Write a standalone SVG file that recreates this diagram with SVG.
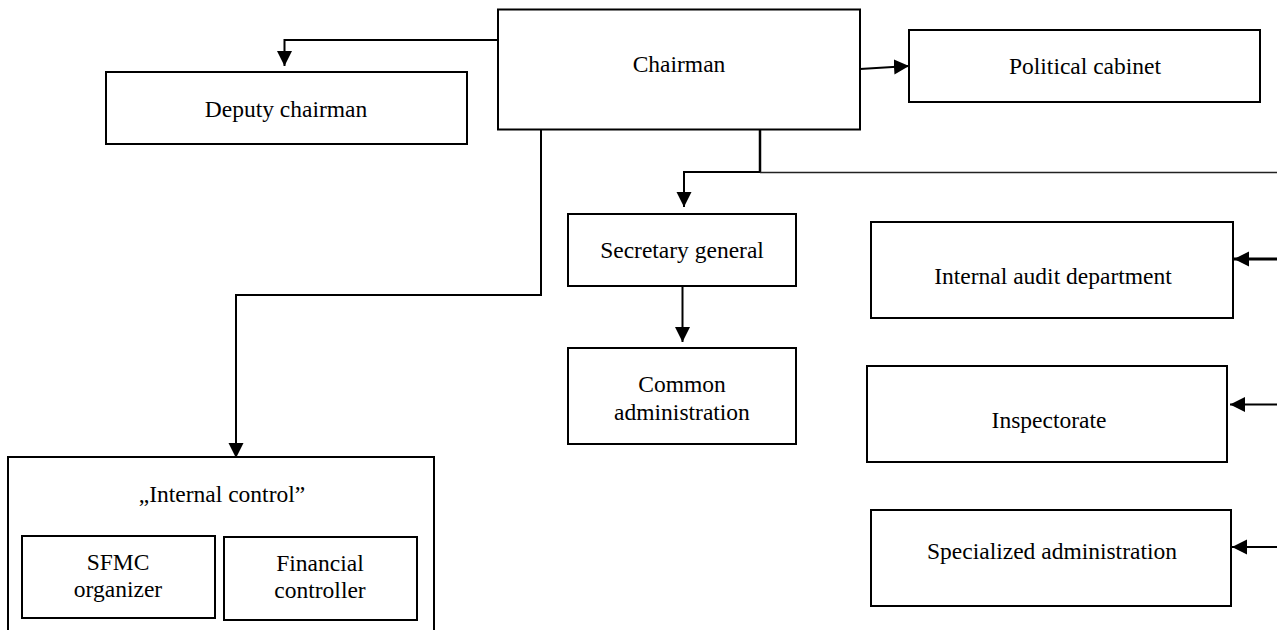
<svg xmlns="http://www.w3.org/2000/svg" width="1277" height="630" viewBox="0 0 1277 630">
<style>
.box{fill:#fff;stroke:#000;stroke-width:2}
.t{font-family:"Liberation Serif","Times New Roman",serif;font-size:23.5px;fill:#000;text-anchor:middle}
.c{fill:none;stroke:#000;stroke-width:2}
</style>
<defs>
<marker id="ah" markerUnits="userSpaceOnUse" markerWidth="16" markerHeight="16" refX="15" refY="7.5" orient="auto">
<path d="M0,0 L15,7.5 L0,15 z" fill="#000"/>
</marker>
</defs>
<rect width="1277" height="630" fill="#fff"/>
<g id="connectors">
<polyline class="c" points="498,40 284.5,40 284.5,66" marker-end="url(#ah)"/>
<line class="c" x1="860" y1="69" x2="909" y2="66" marker-end="url(#ah)"/>
<polyline class="c" points="541,129 541,295 236,295 236,458" marker-end="url(#ah)"/>
<line x1="760" y1="129" x2="760" y2="172" stroke="#000" stroke-width="2.5"/>
<polyline class="c" points="760,172 684,172 684,207" marker-end="url(#ah)"/>
<line x1="760" y1="172.5" x2="1277" y2="172.5" stroke="#222" stroke-width="1.5"/>
<line class="c" x1="682.5" y1="286" x2="682.5" y2="342" marker-end="url(#ah)"/>
<line x1="1277" y1="259" x2="1234" y2="259" stroke="#000" stroke-width="3.2" marker-end="url(#ah)"/>
<line class="c" x1="1277" y1="404.5" x2="1230" y2="404.5" marker-end="url(#ah)"/>
<line class="c" x1="1277" y1="547" x2="1232" y2="547" marker-end="url(#ah)"/>
</g>
<g id="chairman"><rect class="box" x="498" y="9.5" width="362" height="120"/><text class="t" x="679" y="72">Chairman</text></g>
<g id="political-cabinet"><rect class="box" x="909" y="30" width="351" height="72"/><text class="t" x="1085" y="74">Political cabinet</text></g>
<g id="deputy-chairman"><rect class="box" x="106" y="72" width="361" height="72"/><text class="t" x="286" y="117">Deputy chairman</text></g>
<g id="secretary-general"><rect class="box" x="568" y="214" width="228" height="72"/><text class="t" x="682" y="258">Secretary general</text></g>
<g id="common-administration"><rect class="box" x="568" y="348" width="228" height="96"/><text class="t" x="682" y="392">Common</text><text class="t" x="682" y="420">administration</text></g>
<g id="internal-audit"><rect class="box" x="871" y="222" width="362" height="96"/><text class="t" x="1053" y="284">Internal audit department</text></g>
<g id="inspectorate"><rect class="box" x="867" y="366" width="360" height="96"/><text class="t" x="1049" y="428">Inspectorate</text></g>
<g id="specialized-administration"><rect class="box" x="871" y="510" width="360" height="96"/><text class="t" x="1052" y="559">Specialized administration</text></g>
<g id="internal-control"><rect class="box" x="8" y="457" width="426" height="200"/><text class="t" x="222" y="502">„Internal control”</text>
<g id="sfmc-organizer"><rect class="box" x="22" y="536" width="193" height="82"/><text class="t" x="118" y="570">SFMC</text><text class="t" x="118" y="597">organizer</text></g>
<g id="financial-controller"><rect class="box" x="224" y="537" width="193" height="83"/><text class="t" x="320" y="571">Financial</text><text class="t" x="320" y="598">controller</text></g>
</g>
</svg>
